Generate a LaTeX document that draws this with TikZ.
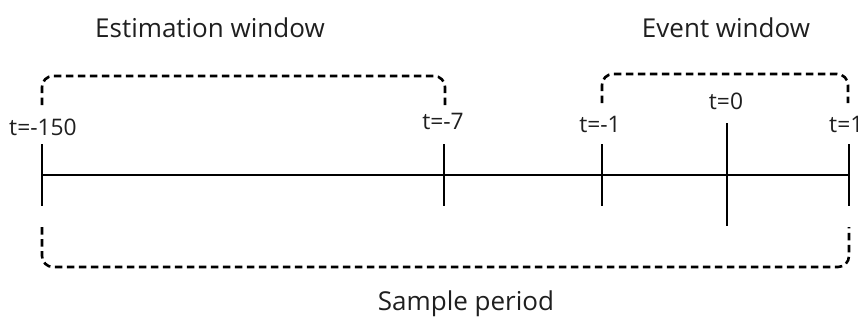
\documentclass[tikz,border=0pt]{standalone}
\usepackage{fontspec}
\setmainfont{Open Sans}
\begin{document}
\begin{tikzpicture}[x=1pt,y=-1pt,
  axis/.style={line width=2.5pt,black},
  window/.style={line width=2.6pt,black,dash pattern=on 7.5pt off 4.5pt,rounded corners=11pt},
  ticklbl/.style={font=\fontsize{22.8}{26}\selectfont,text=black!88,anchor=base,inner sep=0pt},
  title/.style={font=\fontsize{26}{30}\selectfont,text=black!88,anchor=base,inner sep=0pt}]
  \clip (0,0) rectangle (858,322);
  \fill[white] (0,0) rectangle (858,322);

  % positions on the time axis
  \coordinate (p150) at (42,175);
  \coordinate (p7)   at (444,175);
  \coordinate (p1m)  at (602,175);
  \coordinate (p0)   at (727,175);
  \coordinate (p1)   at (849,175);

  % axis and ticks
  \draw[axis] (p150) -- (p1);
  \foreach \p in {p150,p7,p1m,p1}
    \draw[axis] ([yshift=31pt]\p) -- ([yshift=-31pt]\p);
  \draw[axis] ([yshift=52pt]p0) -- ([yshift=-51pt]p0);

  % tick labels
  \node[ticklbl] (l150) at (43,135) {t=-150};
  \node[ticklbl] (l7)   at (443,129) {t=-7};
  \node[ticklbl] (l1m)  at (600,132.5) {t=-1};
  \node[ticklbl] (l0)   at (726,109) {t=0};
  \node[ticklbl,anchor=base west] (l1) at (829,132.5) {t=1};

  % windows
  \draw[window] (42,105) -- (42,76) -- (445,76) -- (445,107);
  \draw[window] (602,103) -- (602,74) -- (848,74) -- (848,103);
  \draw[window] (42,227) -- (42,267) -- (849,267) -- (849,227);

  % titles
  \node[title] (est) at (210,37.5) {Estimation window};
  \node[title] (evt) at (726,37.5) {Event window};
  \node[title] (smp) at (466,310) {Sample period};
\end{tikzpicture}
\end{document}
